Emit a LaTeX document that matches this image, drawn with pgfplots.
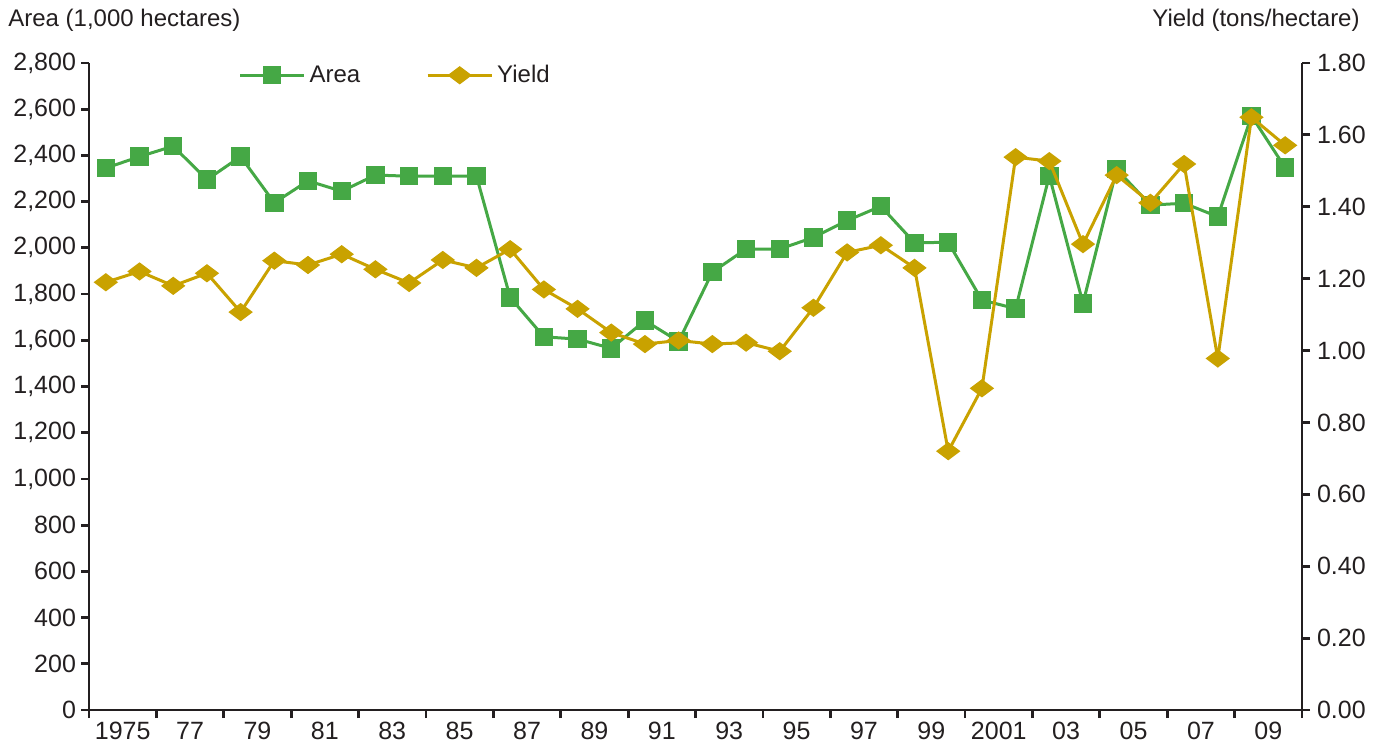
\documentclass[border=0pt]{standalone}
\usepackage{pgfplots}
\pgfplotsset{compat=1.18}
\usepackage{pgfplotstable}
\usepackage{fontspec}
\setmainfont{Liberation Sans}
\definecolor{areagreen}{RGB}{69,168,69}
\definecolor{yieldgold}{RGB}{201,162,0}
\definecolor{axblack}{RGB}{35,31,32}

\pgfplotstableread{
year area yield
1975 2345 1.19
1976 2395 1.22
1977 2440 1.18
1978 2295 1.215
1979 2395 1.107
1980 2195 1.25
1981 2290 1.238
1982 2245 1.268
1983 2315 1.226
1984 2310 1.188
1985 2310 1.252
1986 2310 1.23
1987 1785 1.282
1988 1615 1.17
1989 1605 1.116
1990 1565 1.05
1991 1685 1.018
1992 1595 1.028
1993 1895 1.018
1994 1995 1.022
1995 1995 0.998
1996 2045 1.119
1997 2118 1.273
1998 2180 1.293
1999 2022 1.23
2000 2024 0.72
2001 1774 0.895
2002 1737 1.538
2003 2312 1.527
2004 1760 1.296
2005 2340 1.488
2006 2185 1.411
2007 2193 1.519
2008 2135 0.978
2009 2571 1.649
2010 2347 1.571
}\datatable

\begin{document}
\begin{tikzpicture}[font=\fontsize{12}{14}\selectfont]
\pgfplotsset{
  common/.style={
    width=606.5pt, height=323.5pt, scale only axis,
    xmin=1974.5, xmax=2010.5,
    axis line style={axblack, line width=1.4pt},
    tick style={axblack, line width=1.4pt},
    tick align=outside,
    major tick length=4pt, minor tick length=4pt,
    /pgf/number format/assume math mode=true,
    ticklabel style={text=axblack, font=\fontsize{12.5}{14}\selectfont},
  },
}
\begin{axis}[common,
  name=left,
  ymin=0, ymax=2800,
  axis x line*=bottom, axis y line*=left,
  ytick={0,200,...,2800},
  yticklabel style={/pgf/number format/1000 sep={,}, xshift=1pt},
  xtick={1975.5,1977.5,...,2009.5},
  xticklabels={1975,77,79,81,83,85,87,89,91,93,95,97,99,2001,03,05,07,09},
  minor xtick={1974.5,1976.5,...,2010.5},
  major x tick style={draw=none},
  xticklabel style={yshift=1.5pt},
]
\addplot[areagreen, line width=1.5pt, mark=square*, mark size=4.3pt,
  mark options={solid, fill=areagreen, draw=areagreen, line width=0.6pt}]
  table[x=year, y=area] {\datatable};
\end{axis}
\begin{axis}[common,
  ymin=0, ymax=1.8,
  axis x line=none, axis y line*=right,
  ytick={0,0.2,0.4,0.6,0.8,1.0,1.2,1.4,1.6,1.8},
  yticklabel style={/pgf/number format/.cd, fixed, fixed zerofill, precision=2},
  legend style={at={(0.118,0.981)}, anchor=west, draw=none, fill=none,
    legend columns=2, text=axblack, font=\fontsize{12}{14}\selectfont,
    /tikz/every even column/.append style={column sep=31pt}},
  legend image code/.code={
    \draw[#1, mark=none] (0pt,0pt) -- (32pt,0pt);
    \draw[#1, only marks] plot coordinates {(16pt,0pt)};
  },
]
\addlegendimage{areagreen, line width=1.5pt, mark=square*, mark size=4.3pt,
  mark options={solid, fill=areagreen, draw=areagreen, line width=0.6pt}}
\addlegendentry{Area}
\addplot[yieldgold, line width=1.5pt, mark=diamond*, mark size=5.6pt,
  mark options={solid, rotate=90, fill=yieldgold, draw=yieldgold, line width=0.6pt}]
  table[x=year, y=yield] {\datatable};
\addlegendentry{Yield}
\end{axis}
\node[anchor=base west, inner sep=0, text=axblack] at ([shift={(-40.5pt,18pt)}]left.north west) {Area (1,000 hectares)};
\node[anchor=base east, inner sep=0, text=axblack] at ([shift={(29pt,18pt)}]left.north east) {Yield (tons/hectare)};
\pgfresetboundingbox
\path ([shift={(-44.5pt,-18.5pt)}]left.south west) rectangle ([shift={(40pt,31.5pt)}]left.north east);
\end{tikzpicture}
\end{document}
